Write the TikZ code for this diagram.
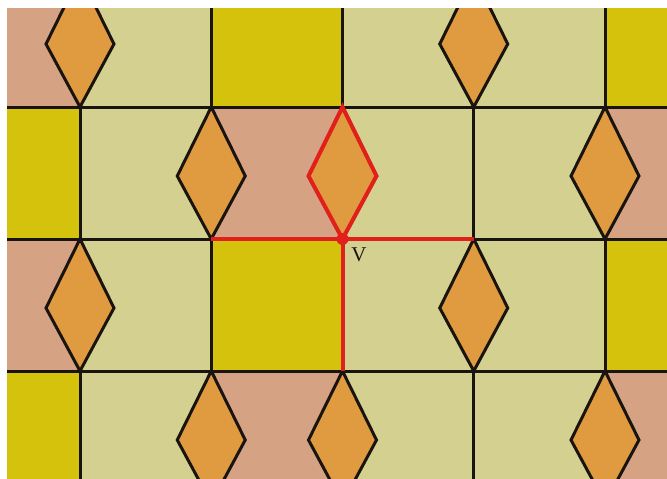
\documentclass[tikz,border=0pt]{standalone}
\usepackage{fontspec}
\setmainfont{Liberation Serif}
\definecolor{pinkc}{HTML}{D5A284}
\definecolor{palec}{HTML}{D4D190}
\definecolor{yelc}{HTML}{D5C20C}
\definecolor{orc}{HTML}{E09B40}
\definecolor{redc}{HTML}{E2201B}
\definecolor{inkc}{HTML}{1A1410}
\begin{document}
\begin{tikzpicture}[x=1pt,y=-1pt,
  edge/.style={line width=3pt, draw=inkc},
  rhomb/.style={line width=3pt, draw=inkc, fill=orc},
  redline/.style={line width=4pt, draw=redc},
  lbl/.style={font=\fontsize{21}{24}\selectfont, text=inkc, inner sep=0pt}]
\useasboundingbox (0,0) rectangle (667,479);
\fill[white] (0,0) rectangle (667,479);
\begin{scope}
\clip (7,8) rectangle (667,479);
% cells
\foreach \r in {0,2} {
  \foreach \a/\b/\c in {-1/0/pinkc, 0/1/palec, 1/2/yelc, 2/3/palec, 3/4/palec, 4/5/yelc}
    \fill[\c] ({80+131.25*\a},{-25+132*\r}) rectangle ({80+131.25*\b},{107+132*\r});
}
\foreach \r in {1,3} {
  \foreach \a/\b/\c in {-1/0/yelc, 0/1/palec, 1/2/pinkc, 2/3/palec, 3/4/palec, 4/5/pinkc}
    \fill[\c] ({80+131.25*\a},{-25+132*\r}) rectangle ({80+131.25*\b},{107+132*\r});
}
% vertical edges
\foreach \r in {0,2} {
  \foreach \i in {1,2,4,5}
    \draw[edge] ({80+131.25*\i},{-25+132*\r}) -- ++(0,132);
}
\foreach \r in {1,3} {
  \foreach \i in {-1,0,3}
    \draw[edge] ({80+131.25*\i},{-25+132*\r}) -- ++(0,132);
}
% rhombi
\foreach \r in {0,2} {
  \foreach \i in {-1,0,3}
    \draw[rhomb] ({80+131.25*\i},{-25+132*\r}) -- ++(34,69) -- ++(-34,63) -- ++(-34,-63) -- cycle;
}
\foreach \r in {1,3} {
  \foreach \i in {1,2,4,5}
    \draw[rhomb] ({80+131.25*\i},{-25+132*\r}) -- ++(34,69) -- ++(-34,63) -- ++(-34,-63) -- cycle;
}
% horizontal lines
\foreach \y in {107,239,371}
  \draw[edge] (0,\y) -- (667,\y);
\end{scope}
% red highlight
\coordinate (rt) at (342.5,107);
\coordinate (rr) at (376.5,176);
\coordinate (rl) at (308.5,176);
\coordinate (V) at (342.5,239);
\coordinate (hl) at (211.25,239);
\coordinate (hr) at (473.75,239);
\coordinate (vb) at (342.5,371);
\draw[redline, line join=miter] (rt) -- (rr) -- (V) -- (rl) -- cycle;
\draw[redline] (hl) -- (hr);
\draw[redline] (V) -- (vb);
\fill[redc] (V) circle (6);
\node[lbl] (vlabel) at (359,255) {V};
\end{tikzpicture}
\end{document}
